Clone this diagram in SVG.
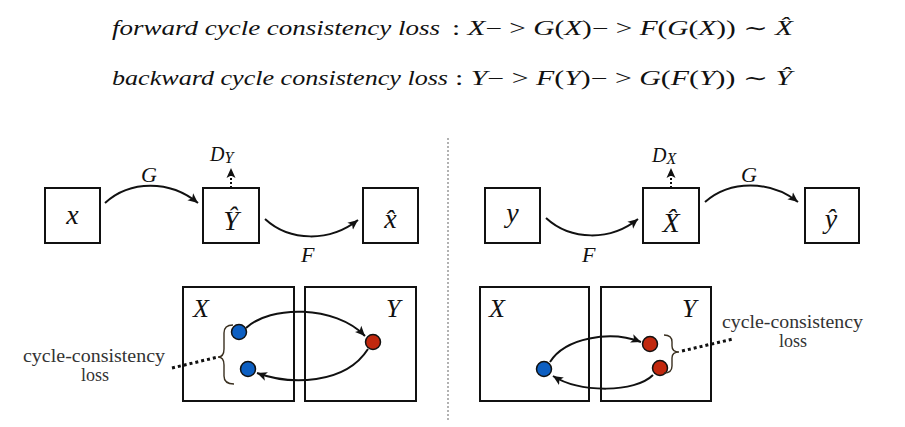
<svg xmlns="http://www.w3.org/2000/svg" width="905" height="427" viewBox="0 0 905 427">
<style>
.m{font-family:'Liberation Serif','Times New Roman',Tinos,'DejaVu Serif','Noto Serif',serif;fill:#111}
.i{font-style:italic}
.box{fill:#fff;stroke:#111;stroke-width:2}
.arc{fill:none;stroke:#111;stroke-width:2}
.dot{stroke:#111;stroke-width:1.5}
.b{fill:#0d5fc2}
.r{fill:#c1280e}
.lbl{font-family:'Liberation Serif','Times New Roman',Tinos,'DejaVu Serif','Noto Serif',serif;font-size:18px;fill:#333}
.brace{fill:none;stroke:#3a3020;stroke-width:1.4}
.dots{fill:none;stroke:#111;stroke-width:3;stroke-dasharray:3,3}
</style>
<defs>
<marker id="ah" markerWidth="12" markerHeight="10" refX="10" refY="5" orient="auto" markerUnits="userSpaceOnUse">
<path d="M0,0.5 L10,5 L0,9.5 L2.5,5 z" fill="#111"/>
</marker>
</defs>

<g id="formulas">
<text class="m i" x="112" y="35" font-size="20" textLength="328" lengthAdjust="spacingAndGlyphs">forward cycle consistency loss</text>
<text class="m" x="452" y="35" font-size="20" textLength="341" lengthAdjust="spacingAndGlyphs">: <tspan class="i">X</tspan>− &gt; <tspan class="i">G</tspan>(<tspan class="i">X</tspan>)− &gt; <tspan class="i">F</tspan>(<tspan class="i">G</tspan>(<tspan class="i">X</tspan>)) ∼ <tspan class="i">X̂</tspan></text>
<text class="m i" x="112" y="85" font-size="20" textLength="336" lengthAdjust="spacingAndGlyphs">backward cycle consistency loss</text>
<text class="m" x="455" y="85" font-size="20" textLength="337" lengthAdjust="spacingAndGlyphs">: <tspan class="i">Y</tspan>− &gt; <tspan class="i">F</tspan>(<tspan class="i">Y</tspan>)− &gt; <tspan class="i">G</tspan>(<tspan class="i">F</tspan>(<tspan class="i">Y</tspan>)) ∼ <tspan class="i">Ŷ</tspan></text>
</g>

<line id="divider" x1="448" y1="138" x2="448" y2="420" stroke="#999" stroke-width="1.5" stroke-dasharray="2,2"/>

<g id="node-x">
<rect class="box" x="45" y="188" width="55" height="55"/>
<text class="m i" x="72.5" y="224" font-size="28" text-anchor="middle">x</text>
</g>
<g id="node-Yhat">
<rect class="box" x="203" y="188" width="56" height="55"/>
<text class="m i" x="231" y="230" font-size="28" text-anchor="middle">Ŷ</text>
</g>
<g id="node-xhat">
<rect class="box" x="363" y="188" width="55" height="55"/>
<text class="m i" x="390.5" y="228" font-size="28" text-anchor="middle">x̂</text>
</g>
<g id="label-DY">
<text class="m i" x="210" y="161" font-size="20">D<tspan font-size="16" dy="2">Y</tspan></text>
</g>

<g id="domain-X-left">
<rect class="box" x="183" y="287" width="111" height="114"/>
<text class="m i" x="193" y="317" font-size="26">X</text>
</g>
<g id="domain-Y-left">
<rect class="box" x="305" y="287" width="111" height="114"/>
<text class="m i" x="386" y="317" font-size="26">Y</text>
</g>
<g id="dot-x1"><circle class="dot b" cx="239" cy="332" r="7.5"/></g>
<g id="dot-x2"><circle class="dot b" cx="248" cy="369" r="7.5"/></g>
<g id="dot-y1"><circle class="dot r" cx="373" cy="342" r="7.5"/></g>
<g id="loss-left">
<path class="brace" d="M233,325 Q224,325 224,333 L224,349 Q224,357 218,357 Q224,357 224,365 L224,376 Q224,384 234,384"/>
<text class="lbl" x="23" y="362" textLength="142" lengthAdjust="spacingAndGlyphs">cycle-consistency</text>
<text class="lbl" x="95" y="381" text-anchor="middle">loss</text>
</g>

<g id="node-y">
<rect class="box" x="485" y="188" width="55" height="55"/>
<text class="m i" x="512.5" y="222" font-size="28" text-anchor="middle">y</text>
</g>
<g id="node-Xhat">
<rect class="box" x="643" y="188" width="56" height="55"/>
<text class="m i" x="671" y="232" font-size="28" text-anchor="middle">X̂</text>
</g>
<g id="node-yhat">
<rect class="box" x="805" y="188" width="54" height="55"/>
<text class="m i" x="831" y="228" font-size="28" text-anchor="middle">ŷ</text>
</g>
<g id="label-DX">
<text class="m i" x="652" y="162" font-size="20">D<tspan font-size="16" dy="2">X</tspan></text>
</g>

<g id="domain-X-right">
<rect class="box" x="480" y="287" width="109" height="114"/>
<text class="m i" x="489" y="317" font-size="26">X</text>
</g>
<g id="domain-Y-right">
<rect class="box" x="601" y="287" width="110" height="114"/>
<text class="m i" x="682" y="317" font-size="26">Y</text>
</g>
<g id="dot-x3"><circle class="dot b" cx="544" cy="369" r="7.5"/></g>
<g id="dot-y2"><circle class="dot r" cx="650" cy="344" r="7.5"/></g>
<g id="dot-y3"><circle class="dot r" cx="660" cy="368" r="7.5"/></g>
<g id="loss-right">
<path class="brace" d="M664,335 Q672,335 672,342 L672,346 Q672,352 679,352 Q672,352 672,358 L672,366 Q672,373 664,373"/>
<text class="lbl" x="722" y="328" textLength="141" lengthAdjust="spacingAndGlyphs">cycle-consistency</text>
<text class="lbl" x="793" y="347" text-anchor="middle">loss</text>
</g>

<g id="connectors">
<path class="arc" d="M105,203 C130,180 170,180 198,203" marker-end="url(#ah)"/>
<text class="m i" x="141" y="182" font-size="22">G</text>
<path class="arc" d="M265,219 C290,242 330,242 358,220" marker-end="url(#ah)"/>
<text class="m i" x="301" y="262" font-size="22">F</text>
<line x1="231" y1="188" x2="231" y2="168" stroke="#111" stroke-width="2" stroke-dasharray="2,2" marker-end="url(#ah)"/>
<path class="arc" d="M546,218 C571,241 611,241 638,219" marker-end="url(#ah)"/>
<text class="m i" x="582" y="262" font-size="22">F</text>
<path class="arc" d="M705,202 C730,180 770,180 798,202" marker-end="url(#ah)"/>
<text class="m i" x="741" y="182" font-size="22">G</text>
<line x1="671" y1="188" x2="671" y2="168" stroke="#111" stroke-width="2" stroke-dasharray="2,2" marker-end="url(#ah)"/>
<path class="arc" d="M246,328 C270,305 335,305 365,336" marker-end="url(#ah)"/>
<path class="arc" d="M368,349 C345,385 290,385 257,373" marker-end="url(#ah)"/>
<path class="dots" d="M172,368 L218,357"/>
<path class="arc" d="M550,362 C565,338 610,330 641,342" marker-end="url(#ah)"/>
<path class="arc" d="M653,375 C635,393 580,393 553,376" marker-end="url(#ah)"/>
<path class="dots" d="M682,351 L733,339"/>
</g>
</svg>
